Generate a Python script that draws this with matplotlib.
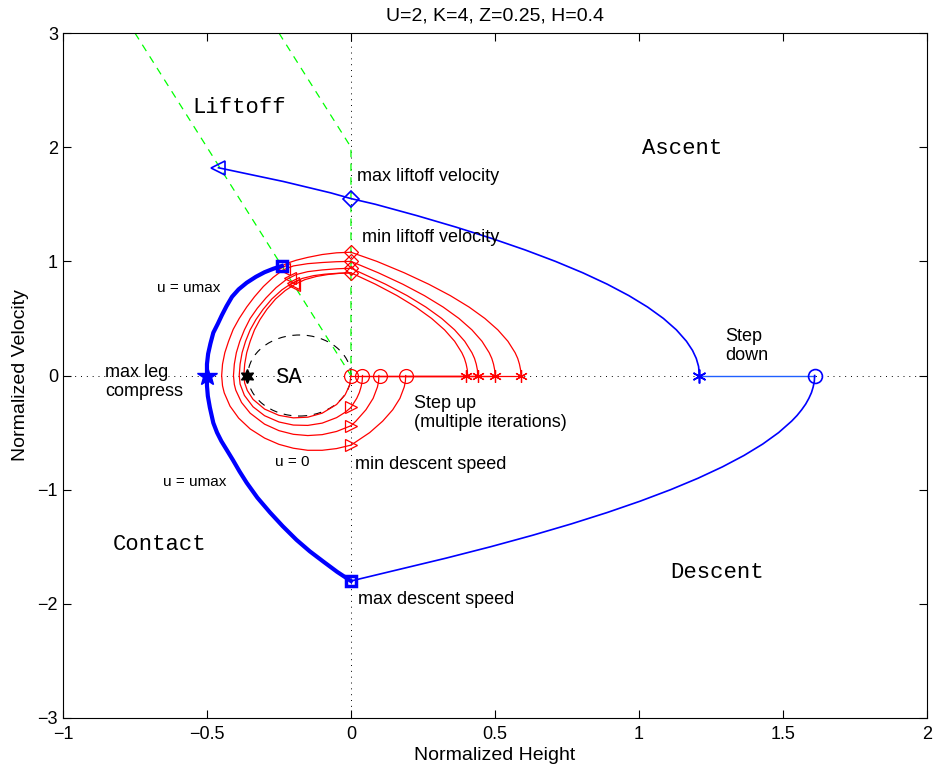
import numpy as np
import matplotlib.pyplot as plt
from matplotlib.patches import Ellipse

plt.rcParams['font.family'] = ['Liberation Sans', 'DejaVu Sans']

# ---- blue: max trajectory ----
contact_h = [-0.24, -0.27, -0.30, -0.33, -0.362, -0.39, -0.413, -0.432, -0.448, -0.462, -0.478,
             -0.488, -0.496, -0.50, -0.50, -0.50, -0.497, -0.49, -0.478, -0.465, -0.45, -0.432,
             -0.41, -0.387, -0.362, -0.325, -0.281, -0.237, -0.189, -0.143, -0.096, -0.048, 0.0]
contact_v = [0.96, 0.935, 0.905, 0.865, 0.813, 0.755, 0.69, 0.608, 0.53, 0.455, 0.375,
             0.28, 0.19, 0.1, 0.0, -0.09, -0.18, -0.28, -0.415, -0.50, -0.575, -0.649,
             -0.74, -0.84, -0.94, -1.07, -1.2, -1.32, -1.44, -1.54, -1.63, -1.72, -1.8]

ascent_h = [-0.46, -0.235, -0.07, 0.0, 0.085, 0.23, 0.365, 0.49, 0.605, 0.71, 0.805, 0.89,
            0.965, 1.03, 1.085, 1.13, 1.165, 1.186, 1.199, 1.207, 1.21]
ascent_v = [1.82, 1.7, 1.6, 1.55, 1.5, 1.4, 1.3, 1.2, 1.1, 1.0, 0.9, 0.8,
            0.7, 0.6, 0.5, 0.4, 0.3, 0.22, 0.15, 0.08, 0.0]

step_down_h = [1.21, 1.61]
step_down_v = [0.0, 0.0]

descent_h = [1.61, 1.609, 1.605, 1.599, 1.59, 1.579, 1.565, 1.549, 1.53, 1.485, 1.43, 1.365,
             1.29, 1.205, 1.11, 1.005, 0.89, 0.765, 0.63, 0.485, 0.33, 0.165, 0.0]
descent_v = [0.0, -0.05, -0.1, -0.15, -0.2, -0.25, -0.3, -0.35, -0.4, -0.5, -0.6, -0.7,
             -0.8, -0.9, -1.0, -1.1, -1.2, -1.3, -1.4, -1.5, -1.6, -1.7, -1.8]

# ---- red: step up iterations ----
first_arc_h = [-0.24, -0.22, -0.19, -0.15, -0.10, -0.05, 0.0]
first_arc_v = [0.96, 0.985, 1.01, 1.035, 1.06, 1.075, 1.08]

arcs_h = [
    [0.0, -0.05, -0.10, -0.15, -0.20, -0.25, -0.30, -0.35, -0.39, -0.42, -0.44, -0.446, -0.449,
     -0.446, -0.438, -0.425, -0.409, -0.388, -0.362, -0.335, -0.304, -0.27, -0.236, -0.20,
     -0.15, -0.10, -0.05, 0.0],
    [0.0, -0.05, -0.10, -0.15, -0.20, -0.25, -0.30, -0.35, -0.38, -0.40, -0.405, -0.408,
     -0.405, -0.398, -0.386, -0.37, -0.35, -0.325, -0.295, -0.26, -0.225, -0.19, -0.15,
     -0.10, -0.05, 0.0],
    [0.0, -0.02, -0.05, -0.10, -0.15, -0.20, -0.25, -0.30, -0.34, -0.37, -0.385, -0.388,
     -0.385, -0.378, -0.366, -0.35, -0.33, -0.305, -0.275, -0.24, -0.205, -0.17, -0.13,
     -0.09, -0.045, 0.0],
    [0.0, -0.005, -0.02, -0.05, -0.10, -0.15, -0.20, -0.25, -0.30, -0.34, -0.36, -0.369, -0.372,
     -0.369, -0.362, -0.35, -0.335, -0.316, -0.292, -0.262, -0.228, -0.194, -0.16, -0.12,
     -0.08, -0.04, 0.0],
]
arcs_v = [
    [-0.61, -0.64, -0.655, -0.655, -0.637, -0.603, -0.548, -0.468, -0.373, -0.268, -0.152, -0.09, 0.0,
     0.1, 0.2, 0.3, 0.404, 0.5, 0.6, 0.69, 0.78, 0.86, 0.925, 0.96,
     0.98, 0.99, 0.997, 1.0],
    [-0.44, -0.49, -0.518, -0.526, -0.515, -0.483, -0.426, -0.33, -0.236, -0.128, -0.078, 0.0,
     0.1, 0.2, 0.3, 0.4, 0.5, 0.59, 0.68, 0.77, 0.84, 0.885, 0.91,
     0.925, 0.935, 0.94],
    [-0.28, -0.322, -0.369, -0.417, -0.437, -0.434, -0.407, -0.352, -0.274, -0.174, -0.075, 0.0,
     0.1, 0.2, 0.3, 0.4, 0.49, 0.58, 0.67, 0.75, 0.81, 0.85, 0.875,
     0.888, 0.896, 0.90],
    [0.0, -0.086, -0.168, -0.254, -0.33, -0.365, -0.371, -0.349, -0.294, -0.209, -0.131, -0.066, 0.0,
     0.1, 0.2, 0.3, 0.4, 0.49, 0.58, 0.67, 0.745, 0.80, 0.84, 0.868,
     0.885, 0.895, 0.90],
]

flights_h = [
    [0.0, 0.09, 0.185, 0.27, 0.345, 0.41, 0.465, 0.51, 0.545, 0.57, 0.579, 0.585, 0.589, 0.59],
    [0.0, 0.095, 0.18, 0.255, 0.32, 0.375, 0.42, 0.455, 0.48, 0.489, 0.495, 0.499, 0.5],
    [0.0, 0.12, 0.195, 0.26, 0.315, 0.36, 0.395, 0.42, 0.429, 0.435, 0.439, 0.44],
    [0.0, 0.085, 0.16, 0.225, 0.28, 0.325, 0.36, 0.385, 0.394, 0.40, 0.404, 0.405],
]
flights_v = [
    [1.08, 1.0, 0.9, 0.8, 0.7, 0.6, 0.5, 0.4, 0.3, 0.2, 0.15, 0.1, 0.05, 0.0],
    [1.0, 0.9, 0.8, 0.7, 0.6, 0.5, 0.4, 0.3, 0.2, 0.15, 0.1, 0.05, 0.0],
    [0.94, 0.8, 0.7, 0.6, 0.5, 0.4, 0.3, 0.2, 0.15, 0.1, 0.05, 0.0],
    [0.9, 0.8, 0.7, 0.6, 0.5, 0.4, 0.3, 0.2, 0.15, 0.1, 0.05, 0.0],
]

drops_h = [
    [0.19, 0.189, 0.185, 0.17, 0.145, 0.11, 0.065, 0.0],
    [0.097, 0.096, 0.092, 0.077, 0.052, 0.017, 0.0],
    [0.04, 0.039, 0.035, 0.029, 0.02, 0.0],
]
drops_v = [
    [0.0, -0.05, -0.1, -0.2, -0.3, -0.4, -0.5, -0.61],
    [0.0, -0.05, -0.1, -0.2, -0.3, -0.4, -0.44],
    [0.0, -0.05, -0.1, -0.15, -0.2, -0.28],
]

liftoff_v = [1.08, 1.00, 0.94, 0.90]
touchdown_v = [-0.61, -0.44, -0.28]
star_h = [0.59, 0.50, 0.44, 0.40]
circle_h = [0.19, 0.10, 0.04, 0.0]
cross_h = [-0.232, -0.212, -0.203, -0.198]
cross_v = [0.929, 0.853, 0.812, 0.793]

# ---- green liftoff lines ----
lift1_h = [-0.75, 0.0]
lift1_v = [3.0, 0.0]
lift2_h = [-0.25, 0.0, 0.0]
lift2_v = [3.0, 2.0, 0.0]

fig = plt.figure(figsize=(9.33, 7.73), dpi=100)
ax = fig.add_axes([0.0675, 0.0712, 0.926, 0.886])

dotted = (0, (1, 5))
ax.plot([-1, 2], [0, 0], color='k', ls=dotted, lw=0.7)
ax.plot([0, 0], [-3, 3], color='k', ls=dotted, lw=0.7)

ax.plot(lift1_h, lift1_v, color='#00ff00', ls=(0, (6, 5)), lw=0.9)
ax.plot(lift2_h, lift2_v, color='#00ff00', ls=(0, (6, 5)), lw=0.9)

ax.add_patch(Ellipse((-0.179, 0.0), 0.358, 0.71, fill=False, ec='k', ls=(0, (7, 6)), lw=0.8))

red = '#ff0000'
blue = '#0000ff'

ax.plot(first_arc_h, first_arc_v, color=red, lw=0.9)
for h, v in zip(arcs_h, arcs_v):
    ax.plot(h, v, color=red, lw=0.9)
for h, v in zip(flights_h, flights_v):
    ax.plot(h, v, color=red, lw=0.9)
for h, v in zip(drops_h, drops_v):
    ax.plot(h, v, color=red, lw=0.9)
for s, c in zip(star_h, circle_h):
    ax.plot([c, s], [0, 0], color=red, lw=0.9)

ax.plot([0] * len(liftoff_v), liftoff_v, ls='none', marker='D', ms=7, mfc='none', mec=red, mew=0.9)
ax.plot([0] * len(touchdown_v), touchdown_v, ls='none', marker='>', ms=9, mfc='none', mec=red, mew=0.9)
ax.plot(star_h, [0] * len(star_h), ls='none', marker=(6, 2, 0), ms=9, mec=red, mew=0.9)
ax.plot(circle_h, [0] * len(circle_h), ls='none', marker='o', ms=10, mfc='none', mec=red, mew=0.9)
ax.plot(cross_h, cross_v, ls='none', marker='<', ms=9, mfc='none', mec=red, mew=0.9)

ax.plot(contact_h, contact_v, color=blue, lw=3)
ax.plot(ascent_h, ascent_v, color=blue, lw=1.2)
ax.plot(step_down_h, step_down_v, color='#2060ff', lw=1.0)
ax.plot(descent_h, descent_v, color=blue, lw=1.2)

ax.plot([-0.46], [1.82], marker='<', ms=10, mfc='none', mec=blue, mew=1.2)
ax.plot([0.0], [1.55], marker='D', ms=8, mfc='none', mec=blue, mew=1.2)
ax.plot([1.21], [0.0], marker=(6, 2, 0), ms=10, mec=blue, mew=1.2)
ax.plot([1.61], [0.0], marker='o', ms=10, mfc='none', mec=blue, mew=1.2)
ax.plot([-0.24, 0.0], [0.96, -1.8], ls='none', marker='s', ms=7, mfc='none', mec=blue, mew=2.5)
ax.plot([-0.5], [0.0], marker='*', ms=15, color=blue)

# SA point (hexagram)
ax.plot([-0.36], [0.0], marker=(6, 1, 0), ms=10, color='k')

mono = ['Liberation Mono', 'DejaVu Sans Mono']
ax.text(-0.549, 2.35, 'Liftoff', family=mono, fontsize=16, va='center')
ax.text(1.01, 1.99, 'Ascent', family=mono, fontsize=16, va='center')
ax.text(1.11, -1.73, 'Descent', family=mono, fontsize=16, va='center')
ax.text(-0.826, -1.48, 'Contact', family=mono, fontsize=16, va='center')
ax.text(-0.262, -0.02, 'SA', family=mono, fontsize=16, va='center')

sans = ['Liberation Sans', 'DejaVu Sans']
ax.text(0.02, 1.74, 'max liftoff velocity', family=sans, fontsize=13, va='center')
ax.text(0.037, 1.21, 'min liftoff velocity', family=sans, fontsize=13, va='center')
ax.text(1.30, 0.26, 'Step\ndown', family=sans, fontsize=13, va='center', linespacing=1.15)
ax.text(0.219, -0.325, 'Step up\n(multiple iterations)', family=sans, fontsize=13, va='center',
        linespacing=1.15)
ax.text(0.014, -0.78, 'min descent speed', family=sans, fontsize=13, va='center')
ax.text(0.025, -1.965, 'max descent speed', family=sans, fontsize=13, va='center')
ax.text(-0.854, -0.06, 'max leg\ncompress', family=sans, fontsize=13, va='center', linespacing=1.15)
ax.text(-0.674, 0.77, 'u = umax', family=sans, fontsize=11, va='center')
ax.text(-0.653, -0.93, 'u = umax', family=sans, fontsize=11, va='center')
ax.text(-0.264, -0.76, 'u = 0', family=sans, fontsize=11, va='center')

ax.set_xlim(-1, 2)
ax.set_ylim(-3, 3)
ax.set_xticks(np.arange(-1, 2.01, 0.5))
ax.set_xticklabels(['\u22121', '\u22120.5', '0', '0.5', '1', '1.5', '2'])
ax.set_yticks(np.arange(-3, 4, 1))
ax.tick_params(direction='in', top=True, right=True, length=6, labelsize=13)
ax.tick_params(axis='x', pad=6)
ax.set_xlabel('Normalized Height', fontsize=14, labelpad=3)
ax.set_ylabel('Normalized Velocity', fontsize=14, labelpad=6)
ax.set_title('U=2, K=4, Z=0.25, H=0.4', fontsize=14, pad=9)

fig.savefig('out.png', dpi=100)
